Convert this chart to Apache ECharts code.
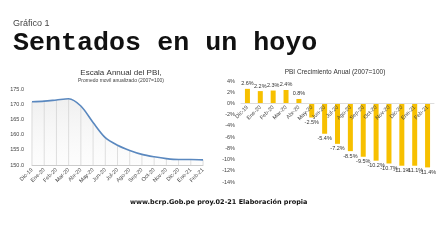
<!DOCTYPE html>
<html><head><meta charset="utf-8">
<script src="https://cdn.jsdelivr.net/npm/echarts@6/dist/echarts.min.js"></script>
<style>html,body{margin:0;padding:0;background:#fff}#c{width:437px;height:246px}</style>
</head><body><div id="c"></div>
<script>
var categories = ['Dic-19','Ene-20','Feb-20','Mar-20','Abr-20','May-20','Jun-20','Jul-20','Ago-20','Sep-20','Oct-20','Nov-20','Dic-20','Ene-21','Feb-21'];
var indexValues = [170.8, 171.0, 171.4, 171.8, 169.4, 164.0, 159.0, 156.5, 154.8, 153.5, 152.7, 152.1, 151.8, 151.8, 151.7];
var growthValues = [2.6, 2.2, 2.3, 2.4, 0.8, -2.5, -5.4, -7.2, -8.5, -9.5, -10.2, -10.7, -11.1, -11.1, -11.4];

var chart = echarts.init(document.getElementById('c'), null, {renderer:'canvas'});
var lblFont = 'Liberation Sans, sans-serif';
var gTop = 81, gBottom = 64, yMin = -14, yMax = 4;
var gH = 246 - gTop - gBottom;
var zeroOffset = gH * (0 - yMin) / (yMax - yMin);
chart.setOption({
  animation:false,
  backgroundColor:'#fff',
  graphic:[
    {type:'text', left:13, top:19, style:{text:'Gráfico 1', font:'9px "Liberation Sans", sans-serif', fill:'#444'}},
    {type:'text', left:13, top:30, style:{text:'Sentados en un hoyo', font:'bold 26.7px "Liberation Mono", monospace', fill:'#111'}},
    {type:'text', left:130, top:199, style:{text:'www.bcrp.Gob.pe proy.02-21 Elaboración propia', font:'bold 6.5px "DejaVu Sans", sans-serif', fill:'#111'}}
  ],
  title:[
    {text:'Escala Annual del PBI,', left:116, top:64, textAlign:'center',
     textStyle:{fontSize:8, fontWeight:'normal', color:'#333', fontFamily:lblFont},
     subtext:'Promedo movil anualizado (2007=100)', itemGap:1,
     subtextStyle:{fontSize:5, color:'#444', fontFamily:lblFont}},
    {text:'PBI Crecimiento Anual (2007=100)', left:330, top:64, textAlign:'center',
     textStyle:{fontSize:6.5, fontWeight:'normal', color:'#333', fontFamily:lblFont}}
  ],
  grid:[
    {left:32, right:234, top:89, bottom:81},
    {left:241, right:3, top:gTop, bottom:gBottom}
  ],
  xAxis:[
    {gridIndex:0, type:'category', data:categories, boundaryGap:false,
     axisLine:{lineStyle:{color:'#ccc'}}, axisTick:{show:false},
     axisLabel:{rotate:45, fontSize:5.5, color:'#444', margin:4, interval:0, fontFamily:lblFont},
     splitLine:{show:false}},
    {gridIndex:1, type:'category', data:categories, position:'bottom', offset:-zeroOffset, z:10,
     axisLine:{onZero:false, lineStyle:{color:'#ddd'}}, axisTick:{show:false},
     axisLabel:{rotate:45, fontSize:5.5, color:'#444', margin:3, interval:0, fontFamily:lblFont}}
  ],
  yAxis:[
    {gridIndex:0, type:'value', min:150, max:175, interval:5,
     axisLine:{show:false}, axisTick:{show:false}, splitLine:{show:false},
     axisLabel:{fontSize:5.5, color:'#444', margin:8, fontFamily:lblFont, formatter:function(v){return v.toFixed(1);}}},
    {gridIndex:1, type:'value', min:yMin, max:yMax, interval:2,
     axisLine:{show:false}, axisTick:{show:false}, splitLine:{show:false},
     axisLabel:{fontSize:5.5, color:'#444', margin:6, fontFamily:lblFont, formatter:'{value}%'}}
  ],
  series:[
    {type:'bar', xAxisIndex:0, yAxisIndex:0, data:indexValues, barWidth:1,
     itemStyle:{color:'#d9d9d9'}, silent:true, z:1},
    {type:'line', xAxisIndex:0, yAxisIndex:0, data:indexValues, smooth:0.3, symbol:'none',
     lineStyle:{color:'#5a88bf', width:1.6},
     areaStyle:{origin:'start', color:new echarts.graphic.LinearGradient(0,0,0,1,[{offset:0,color:'rgba(215,215,215,0.55)'},{offset:1,color:'rgba(245,245,245,0.3)'}])}, z:2},
    {type:'bar', xAxisIndex:1, yAxisIndex:1, data:growthValues, barWidth:5, z:2,
     itemStyle:{color:'#f7c000'},
     label:{show:true, position:'outside', fontSize:5.5, color:'#333', fontFamily:lblFont, distance:2,
       formatter:function(p){return p.value.toFixed(1)+'%';}}}
  ]
});
</script></body></html>
